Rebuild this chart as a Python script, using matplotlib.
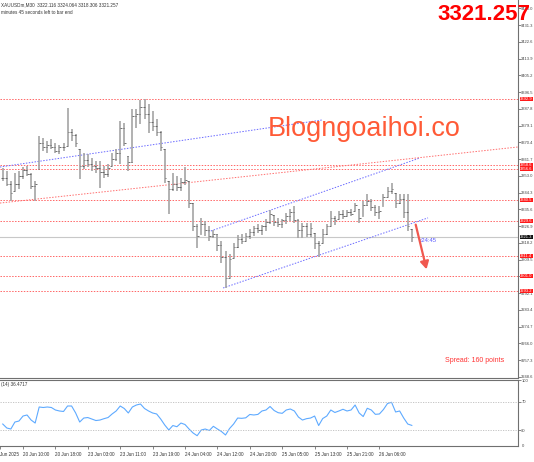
import matplotlib
matplotlib.use("Agg")
import matplotlib.pyplot as plt
from matplotlib import font_manager
import numpy as np

highs = [3357.0, 3355.5, 3350.3, 3354.5, 3355.5, 3357.6, 3358.1, 3354.5, 3350.3, 3373.6,
         3372.5, 3371.0, 3372.0, 3370.0, 3368.9, 3370.0, 3388.0, 3377.2, 3374.6, 3366.9,
         3364.8, 3364.3, 3362.2, 3360.7, 3360.7, 3358.1, 3359.1, 3364.8, 3366.9, 3381.3,
         3380.3, 3363.2, 3387.5, 3387.5, 3392.2, 3392.7, 3390.1, 3386.5, 3382.4, 3376.2,
         3366.9, 3350.3, 3354.5, 3352.9, 3351.9, 3357.6, 3350.3, 3339.0, 3328.1, 3331.2,
         3329.7, 3327.1, 3325.0, 3323.0, 3319.3, 3314.2, 3312.6, 3318.3, 3322.4, 3323.0,
         3323.5, 3325.5, 3327.1, 3328.1, 3327.6, 3330.7, 3335.4, 3332.8, 3331.2, 3330.7,
         3333.8, 3335.9, 3337.4, 3330.7, 3328.6, 3328.6, 3328.6, 3323.5, 3319.3, 3325.5,
         3328.1, 3334.8, 3332.3, 3334.8, 3335.4, 3335.4, 3335.9, 3339.0, 3335.9, 3340.0,
         3343.6, 3341.0, 3337.9, 3337.4, 3343.6, 3347.2, 3349.3, 3344.1, 3343.6, 3343.6,
         3343.6, 3325.5]
lows = [3350.3, 3347.7, 3340.0, 3345.2, 3346.2, 3351.4, 3352.9, 3346.2, 3340.0, 3356.5,
        3365.8, 3364.8, 3366.9, 3364.8, 3364.3, 3365.8, 3368.5, 3371.0, 3367.9, 3351.4,
        3356.5, 3357.6, 3355.5, 3354.5, 3346.7, 3351.9, 3352.4, 3358.1, 3360.7, 3359.1,
        3368.4, 3355.5, 3359.5, 3377.7, 3379.8, 3382.4, 3375.1, 3376.2, 3373.6, 3365.8,
        3349.3, 3333.3, 3345.2, 3345.2, 3345.2, 3348.3, 3336.4, 3324.5, 3315.7, 3323.0,
        3321.9, 3319.3, 3320.9, 3314.2, 3308.0, 3294.6, 3300.2, 3310.6, 3315.7, 3317.8,
        3319.3, 3320.4, 3321.9, 3323.5, 3322.4, 3324.5, 3328.1, 3327.1, 3326.6, 3326.1,
        3328.1, 3329.7, 3328.6, 3320.9, 3320.9, 3321.4, 3321.4, 3315.2, 3311.1, 3318.3,
        3322.4, 3327.1, 3327.6, 3330.7, 3330.7, 3332.3, 3332.3, 3334.8, 3328.6, 3332.3,
        3337.4, 3334.8, 3332.3, 3330.7, 3337.4, 3342.1, 3343.6, 3336.4, 3338.5, 3331.2,
        3324.5, 3318.8]
closes = [3352.0, 3349.0, 3344.0, 3349.0, 3353.0, 3356.0, 3354.0, 3348.0, 3349.0, 3370.0,
          3368.0, 3369.0, 3368.0, 3366.0, 3368.0, 3368.0, 3376.0, 3374.0, 3370.0, 3358.0,
          3361.0, 3359.0, 3358.0, 3357.0, 3355.0, 3354.0, 3357.0, 3362.0, 3365.0, 3378.0,
          3370.0, 3360.0, 3384.0, 3385.0, 3389.0, 3385.0, 3381.0, 3379.0, 3376.0, 3368.0,
          3352.0, 3346.0, 3349.0, 3347.0, 3350.0, 3351.0, 3339.0, 3327.0, 3322.0, 3328.0,
          3325.0, 3322.0, 3323.0, 3317.0, 3311.0, 3300.0, 3310.0, 3316.0, 3320.0, 3319.0,
          3322.0, 3324.0, 3326.0, 3325.0, 3327.0, 3329.0, 3333.0, 3329.0, 3328.0, 3330.0,
          3332.0, 3334.0, 3330.0, 3325.0, 3327.0, 3323.0, 3326.0, 3318.0, 3317.0, 3323.0,
          3327.0, 3331.0, 3330.0, 3333.0, 3332.0, 3334.0, 3333.0, 3338.0, 3331.0, 3338.0,
          3340.0, 3337.0, 3334.0, 3335.0, 3342.0, 3345.0, 3346.0, 3339.0, 3341.0, 3334.0,
          3327.0, 3321.257]
rsi = [38.4, 32.8, 31.4, 41.2, 42.6, 49.6, 51.1, 44.0, 39.8, 62.3,
       61.6, 62.3, 61.6, 58.1, 56.7, 56.0, 63.7, 63.7, 53.9, 41.2,
       46.8, 47.5, 45.4, 43.3, 44.0, 45.9, 47.5, 52.5, 56.7, 63.7,
       60.2, 53.9, 62.3, 65.1, 66.5, 60.2, 56.7, 53.9, 52.5, 45.4,
       37.0, 30.0, 36.3, 34.6, 39.8, 37.7, 31.4, 25.8, 22.0, 30.0,
       31.4, 29.3, 35.2, 31.4, 27.9, 23.0, 32.1, 38.4, 46.8, 46.4,
       47.1, 51.8, 51.1, 51.9, 56.7, 58.1, 63.0, 57.4, 54.3, 53.4,
       58.1, 59.5, 56.7, 48.2, 44.0, 45.9, 46.8, 49.6, 36.3, 46.1,
       49.6, 58.1, 54.6, 56.7, 59.1, 56.7, 58.1, 65.1, 53.9, 48.9,
       60.5, 58.1, 52.0, 52.5, 58.8, 67.2, 68.9, 55.3, 56.7, 46.8,
       38.4, 36.47]

price_ticks = [3248.6, 3257.3, 3266.0, 3274.7, 3283.4, 3292.1, 3300.8, 3309.5, 3318.2,
               3326.9, 3335.6, 3344.3, 3353.0, 3361.7, 3370.4, 3379.1, 3387.8, 3396.5,
               3405.2, 3413.9, 3422.6, 3431.3, 3440.0]
levels = [3392.9, 3358.6, 3356.6, 3340.5, 3329.6, 3311.4, 3301.0, 3293.2]
current_price = 3321.257

time_ticks = [-0.6, 5, 13, 21, 29, 37, 45, 53, 61, 69, 77, 85, 93]
time_labels = ["Jun 2025", "20 Jun 10:00", "20 Jun 18:00", "23 Jun 03:00", "23 Jun 11:00",
               "23 Jun 19:00", "24 Jun 04:00", "24 Jun 12:00", "24 Jun 20:00",
               "25 Jun 05:00", "25 Jun 13:00", "25 Jun 21:00", "26 Jun 06:00"]

# trend lines as (bar, price) end points
blue_lines = [((-0.7, 3357.6), (78.8, 3382.0)),
              ((50.7, 3323.9), (103.0, 3362.3)),
              ((54.4, 3294.8), (105.0, 3331.2))]
red_slope = ((-0.7, 3338.9), (127.2, 3368.0))
arrow = ((101.8, 3329.1), (104.8, 3303.1))

W, H = 534, 462
names = {f.name for f in font_manager.fontManager.ttflist}
SMALL = "Liberation Sans Narrow" if "Liberation Sans Narrow" in names else "Liberation Sans"
SMALL_SIZE = 3.8 if SMALL == "Liberation Sans Narrow" else 3.3
AXIS_SIZE = 3.4 if SMALL == "Liberation Sans Narrow" else 3.0


def fx(x):
    return x / W


def fy(y):
    return 1 - y / H


fig = plt.figure(figsize=(W / 100, H / 100), dpi=100)
fig.patch.set_facecolor("white")

x_lo, x_hi = -0.68, 127.22

# main price panel
ax = fig.add_axes([0, fy(378), 518 / W, 378 / H])
ax.set_xlim(x_lo, x_hi)
ax.set_ylim(3248.08, 3444.3)

idx = np.arange(len(closes))
cl = np.array(closes)
opens = np.clip(np.r_[cl[0], cl[:-1]], lows, highs)
ax.vlines(idx, lows, highs, color="#a4a4a4", lw=1.2, zorder=3)
ax.hlines(cl, idx, idx + 0.4, color="#5a5a5a", lw=0.6, zorder=4)
ax.hlines(opens, idx - 0.4, idx, color="#5a5a5a", lw=0.6, zorder=4)

for lv in levels:
    ax.axhline(lv, color="#ff6666", lw=0.7, ls=(0, (1.5, 1.5)), zorder=2)
ax.axhline(current_price, color="#c8c8c8", lw=0.8, zorder=1)

for (x0, y0), (x1, y1) in blue_lines:
    ax.plot([x0, x1], [y0, y1], color="#6a6aff", lw=0.7, ls=(0, (1.5, 1.5)), zorder=2)
(x0, y0), (x1, y1) = red_slope
ax.plot([x0, x1], [y0, y1], color="#ff6e6e", lw=0.7, ls=(0, (1.5, 1.5)), zorder=2)

ax.annotate("", xy=arrow[1], xytext=arrow[0],
            arrowprops=dict(arrowstyle="-|>,head_length=0.45,head_width=0.25",
                            color="#f0584f", lw=1.6), zorder=6)
ax.text(102.6, 3319.3, "<24:45", color="#5a5aff", fontsize=4.2,
        family="Liberation Sans", va="center", ha="left")

ax.set_yticks(price_ticks)
ax.set_yticklabels([f"{v:.1f}" for v in price_ticks])
ax.tick_params(axis="y", left=False, labelleft=False, right=True, labelright=True,
               length=1.8, pad=0.6, width=0.5, color="#555555", labelcolor="#444444",
               labelsize=AXIS_SIZE)
for lab in ax.get_yticklabels():
    lab.set_family(SMALL)
ax.tick_params(axis="x", bottom=False, labelbottom=False)
for side in ("left", "top"):
    ax.spines[side].set_visible(False)
for side in ("right", "bottom"):
    ax.spines[side].set_color("#707070")
    ax.spines[side].set_linewidth(0.8)

ytr = ax.get_yaxis_transform()
for lv in levels:
    ax.text(1.004, lv, f"{lv:.1f}", transform=ytr, ha="left", va="center",
            fontsize=AXIS_SIZE, family=SMALL, color="white", clip_on=False, zorder=10,
            bbox=dict(boxstyle="square,pad=0.1", fc="#ff1a1a", ec="none"))
ax.text(1.004, current_price, f"{current_price:.1f}", transform=ytr, ha="left",
        va="center", fontsize=AXIS_SIZE, family=SMALL, color="white", clip_on=False,
        zorder=10, bbox=dict(boxstyle="square,pad=0.1", fc="#111111", ec="none"))

# RSI panel
ax2 = fig.add_axes([0, fy(446), 518 / W, 66 / H])
ax2.set_xlim(x_lo, x_hi)
ax2.set_ylim(7.55, 100.2)
ax2.plot(idx, rsi, color="#5eaaff", lw=0.8)
for lv in (70, 30):
    ax2.axhline(lv, color="#bdbdbd", lw=0.6, ls=(0, (1.5, 1.5)))
ax2.set_yticks([30, 70, 100])
ax2.tick_params(axis="y", left=False, labelleft=False, right=True, labelright=True,
                length=1.8, pad=0.6, width=0.5, color="#555555", labelcolor="#444444",
                labelsize=AXIS_SIZE)
ax2.text(1.008, 0.0, "0", transform=ax2.transAxes, ha="left", va="center",
         fontsize=AXIS_SIZE, family=SMALL, color="#444444", clip_on=False)
ax2.set_xticks(time_ticks)
ax2.set_xticklabels(time_labels, ha="left")
ax2.tick_params(axis="x", length=2.5, pad=1.5, width=0.5, color="#555555",
                labelcolor="#333333", labelsize=SMALL_SIZE)
for lab in ax2.get_xticklabels() + ax2.get_yticklabels():
    lab.set_family(SMALL)
ax2.spines["left"].set_visible(False)
for side in ("right", "bottom", "top"):
    ax2.spines[side].set_color("#707070")
    ax2.spines[side].set_linewidth(0.8)
ax2.text(0.002, 0.93, "(14) 36.4717", transform=ax2.transAxes, ha="left", va="center",
         fontsize=SMALL_SIZE, family=SMALL, color="#333333")

# header texts and overlays
fig.text(fx(1), fy(5), "XAUUSDm,M30  3322.116 3324.064 3318.306 3321.257",
         fontsize=SMALL_SIZE, family=SMALL, color="#333333", va="center")
fig.text(fx(1), fy(13), "minutes 45 seconds left to bar end",
         fontsize=SMALL_SIZE, family=SMALL, color="#333333", va="center")
fig.text(fx(530), fy(14), "3321.257", ha="right", va="center", fontsize=16,
         weight="bold", family="Liberation Sans", color="#ff0000")
fig.text(fx(268), fy(129), "Blogngoaihoi.co", ha="left", va="center", fontsize=19.5,
         family="Liberation Sans", color="#ff5a36")
fig.text(fx(445), fy(360), "Spread: 160 points", ha="left", va="center", fontsize=5,
         family="Liberation Sans", color="#ff3333")

fig.savefig("out.png", dpi=100, facecolor="white")
